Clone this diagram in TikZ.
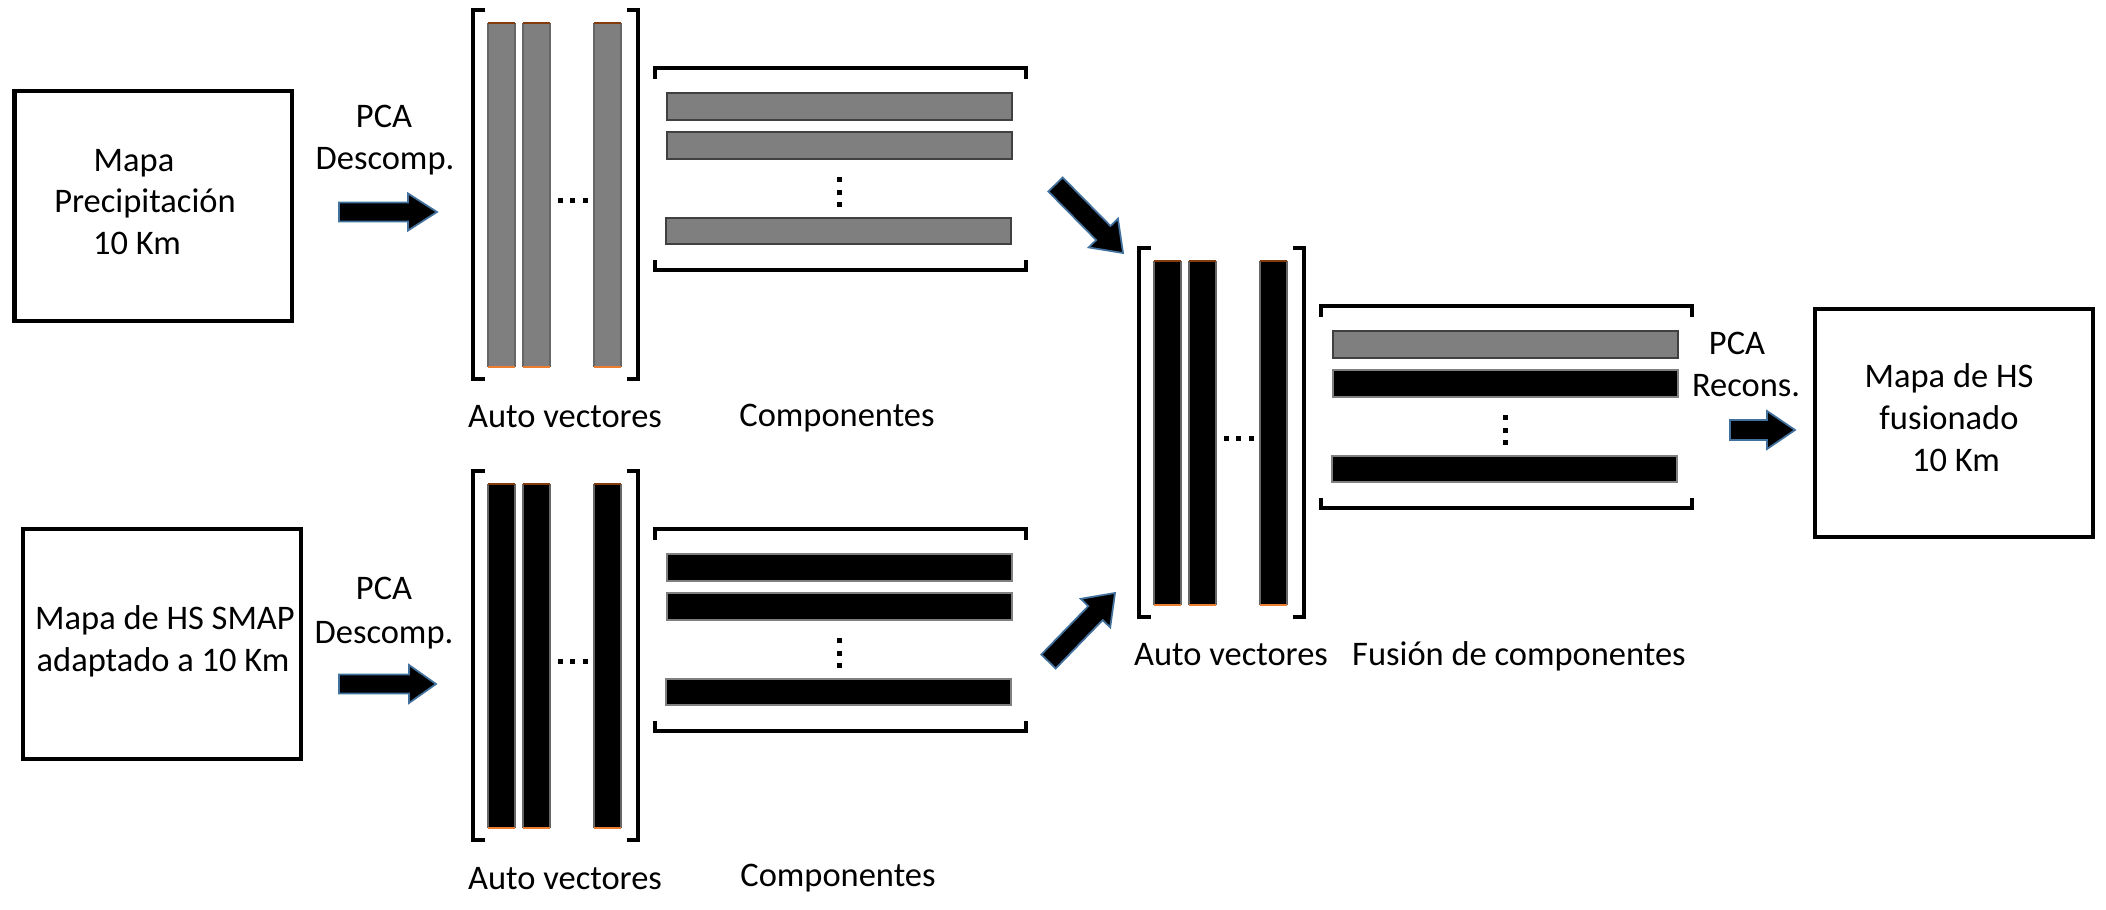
\documentclass[tikz,border=0pt]{standalone}
\usepackage{fontspec}
\setmainfont{Carlito}
\usetikzlibrary{calc}
\definecolor{barg}{HTML}{7F7F7F}
\definecolor{arrowblue}{HTML}{41719C}
\definecolor{edgeor}{HTML}{ED7D31}
\definecolor{edgebr}{HTML}{843C0C}
\tikzset{
  lbl/.style={font=\fontsize{9.8}{12}\selectfont, inner sep=0pt, anchor=base},
  mapbox/.style={draw, line width=0.045cm, inner sep=0pt},
  brk/.style={line width=0.04cm, line join=miter},
  fatarrow/.style={fill=black, draw=arrowblue, line width=0.5pt, line join=miter},
  gbar/.style={fill=barg, draw=black!75, line width=0.4pt},
  kbar/.style={fill=black, draw=black!50, line width=0.4pt},
}
\newcommand\mybar[2]{%
  \fill[#2] (#1,23) rectangle (#1+27,367);
  \draw[black!60, line width=0.3pt] (#1,23) -- (#1,367) (#1+27,23) -- (#1+27,367);
  \draw[edgebr, line width=0.3pt] (#1,23) -- (#1+27,23);
  \draw[edgeor, line width=0.5pt] (#1,367) -- (#1+27,367);
}
\newcommand\vecgroup[1]{%
  \draw[brk] (485,10) -- (473,10) -- (473,379) -- (485,379);
  \draw[brk] (627,10) -- (638,10) -- (638,379) -- (627,379);
  \mybar{488}{#1}\mybar{523}{#1}\mybar{594}{#1}
  \foreach \xd in {560.5,572.5,585} {\fill (\xd-2.5,198) rectangle (\xd+2.5,203);}
}
\newcommand\compgroup[3]{%
  \draw[brk] (655,79) -- (655,68) -- (1026,68) -- (1026,79);
  \draw[brk] (655,260) -- (655,270) -- (1026,270) -- (1026,260);
  \draw[#1] (667,93) rectangle (1012,120);
  \draw[#2] (667,132) rectangle (1012,159);
  \draw[#3] (666,218) rectangle (1011,244);
  \foreach \yd in {179.5,192.5,204.5} {\fill (837,\yd-2.5) rectangle (842,\yd+2.5);}
}
% start, end, shaft half, head half, head length
\newcommand\blockarrow[5]{%
  \coordinate (hb) at ($(#2)!#5!(#1)$);
  \draw[fatarrow] ($(#1)!#3!90:(#2)$) -- ($(hb)!#3!90:(#2)$) -- ($(hb)!#4!90:(#2)$)
    -- (#2) -- ($(hb)!#4!-90:(#2)$) -- ($(hb)!#3!-90:(#2)$) -- ($(#1)!#3!-90:(#2)$) -- cycle;
}
\begin{document}
\begin{tikzpicture}[x=0.01cm, y=-0.01cm]
\useasboundingbox (0,0) rectangle (2106,910);

% input / output boxes
\node[mapbox, minimum width=2.775cm, minimum height=2.30cm] (box1) at (153.25,206) {};
\node[mapbox, minimum width=2.78cm, minimum height=2.30cm] (box2) at (162,644) {};
\node[mapbox, minimum width=2.78cm, minimum height=2.28cm] (boxr) at (1954,423) {};

\node[lbl] (b1a) at (134,172) {Mapa};
\node[lbl] (b1b) at (145,213) {Precipitación};
\node[lbl] (b1c) at (137,255) {10 Km};
\node[lbl] (b2a) at (165,630) {Mapa de HS SMAP};
\node[lbl] (b2b) at (163,672) {adaptado a 10 Km};
\node[lbl] (bra) at (1949,388) {Mapa de HS};
\node[lbl] (brb) at (1949,430) {fusionado};
\node[lbl] (brc) at (1956,472) {10 Km};

\node[lbl] (p1a) at (384,128) {PCA};
\node[lbl] (p1b) at (385,170) {Descomp.};
\node[lbl] (p2a) at (384,600) {PCA};
\node[lbl] (p2b) at (384,643) {Descomp.};
\node[lbl] (pra) at (1737,355) {PCA};
\node[lbl] (prb) at (1746,397) {Recons.};

% groups
\vecgroup{barg}
\compgroup{gbar}{gbar}{gbar}
\begin{scope}[shift={(0,461)}]
  \vecgroup{black}
  \compgroup{kbar}{kbar}{kbar}
\end{scope}
\begin{scope}[shift={(666,238)}]
  \vecgroup{black}
  \compgroup{gbar}{kbar}{kbar}
\end{scope}

\node[lbl] (av1) at (565,428) {Auto vectores};
\node[lbl] (cp1) at (837,427) {Componentes};
\node[lbl] (av2) at (565,889) {Auto vectores};
\node[lbl] (cp2) at (838,886) {Componentes};
\node[lbl] (av3) at (1231,666) {Auto vectores};
\node[lbl] (fc3) at (1519,666) {Fusión de componentes};

% arrows
\coordinate (a1s) at (339,212); \coordinate (a1e) at (437,212);
\coordinate (a2s) at (339,684); \coordinate (a2e) at (436,684);
\coordinate (ars) at (1730,430); \coordinate (are) at (1795,430);
\coordinate (d1s) at (1055.5,184.5); \coordinate (d1e) at (1123,253);
\coordinate (d2s) at (1048.5,661.5); \coordinate (d2e) at (1115,593);
\blockarrow{a1s}{a1e}{0.095cm}{0.185cm}{0.29cm}
\blockarrow{a2s}{a2e}{0.095cm}{0.19cm}{0.27cm}
\blockarrow{ars}{are}{0.10cm}{0.19cm}{0.28cm}
\blockarrow{d1s}{d1e}{0.10cm}{0.205cm}{0.28cm}
\blockarrow{d2s}{d2e}{0.10cm}{0.205cm}{0.28cm}
\end{tikzpicture}
\end{document}
